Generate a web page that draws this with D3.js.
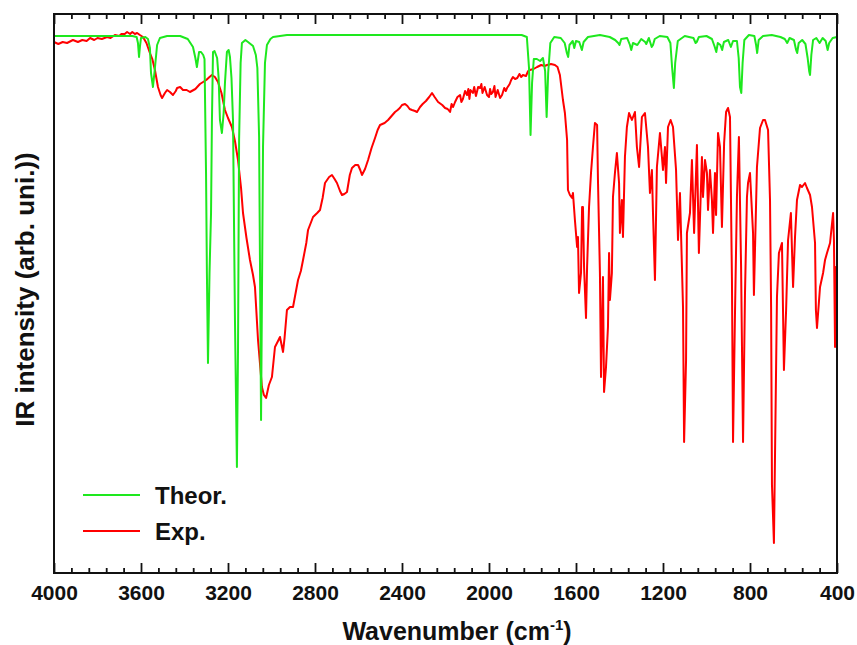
<!DOCTYPE html>
<html>
<head>
<meta charset="utf-8">
<script src="https://cdn.jsdelivr.net/npm/d3@7"></script>
<style>
  html, body { margin: 0; padding: 0; background: #fff; }
  svg { display: block; }
  text { font-family: "Liberation Sans", Arial, sans-serif; font-weight: bold; fill: #111; }
</style>
</head>
<body>
<svg id="chart" width="857" height="645"></svg>
<script>
// ---------------- data ----------------
const xMajorTicks = [4000, 3600, 3200, 2800, 2400, 2000, 1600, 1200, 800, 400];
const xMinorTicks = d3.range(400, 4001, 80).filter(v => !xMajorTicks.includes(v));
const seriesNames = ["Theor.", "Exp."];
const seriesColors = ["#1ee81e", "#ff0000"];

// [wavenumber (cm-1), intensity (arb.)]
const theorSpectrum = [
  [4000,53.7],[3700,53.7],[3640,53.7],[3620,53.6],[3614,53.0],[3609,51.6],[3605,52.6],[3600,53.5],
  [3580,53.6],[3568,53.4],[3559,52.5],[3554,50.0],[3545,48.6],[3536,50.5],[3526,52.8],[3513,53.5],
  [3480,53.7],[3420,53.7],[3385,53.4],[3361,52.6],[3350,51.5],[3343,50.6],[3333,52.1],[3324,52.1],
  [3314,51.8],[3308,51.4],[3301,40.0],[3297,30.0],[3292,21.0],[3285,30.0],[3278,36.0],[3274,45.0],
  [3269,52.1],[3262,52.2],[3250,51.5],[3243,49.5],[3237,45.3],[3228,44.0],[3220,46.0],[3214,49.0],
  [3205,52.1],[3197,52.3],[3191,51.6],[3184,49.5],[3177,45.3],[3168,25.3],[3159,10.6],[3154,22.3],
  [3149,43.3],[3142,51.0],[3136,53.0],[3120,53.3],[3108,53.1],[3085,52.7],[3072,51.8],[3065,50.5],
  [3057,43.6],[3048,15.3],[3039,42.6],[3030,51.0],[3021,52.8],[3005,53.4],[2993,53.6],[2929,53.8],
  [2500,53.8],[2000,53.8],[1850,53.8],[1826,53.6],[1816,50.5],[1809,43.8],[1802,49.0],[1794,51.4],
  [1780,51.4],[1765,51.2],[1752,51.5],[1742,50.2],[1735,45.6],[1728,50.0],[1718,53.0],[1700,53.6],
  [1670,53.5],[1652,53.0],[1642,52.0],[1636,51.6],[1630,52.8],[1615,53.2],[1608,52.5],[1600,53.2],
  [1585,53.1],[1573,52.3],[1565,53.1],[1545,53.6],[1490,53.8],[1445,53.6],[1420,53.3],[1406,53.0],
  [1400,52.8],[1392,53.4],[1365,53.5],[1352,52.8],[1346,52.3],[1338,53.0],[1318,52.8],[1300,53.4],
  [1282,53.1],[1277,52.9],[1265,53.5],[1252,52.6],[1246,52.8],[1238,53.4],[1215,53.7],[1180,53.6],
  [1166,53.0],[1158,50.5],[1150,48.5],[1144,51.0],[1132,53.2],[1100,53.7],[1060,53.5],[1050,53.0],
  [1045,53.1],[1035,53.6],[1000,53.7],[975,53.4],[962,52.6],[955,52.1],[948,53.0],[936,52.8],
  [928,52.3],[920,53.1],[900,53.3],[888,52.6],[878,53.2],[860,53.2],[852,51.5],[846,48.6],
  [840,48.0],[834,51.0],[826,53.3],[805,53.8],[780,53.7],[772,52.8],[767,52.0],[760,53.3],
  [740,53.7],[700,53.8],[660,53.6],[640,53.4],[629,53.0],[618,53.5],[598,53.3],[588,52.3],
  [583,52.0],[576,53.0],[560,53.3],[545,52.9],[535,51.5],[528,50.2],[524,49.8],[518,51.8],
  [510,53.3],[495,53.5],[480,53.0],[466,53.5],[452,53.2],[443,52.3],[436,53.0],[420,53.5],[400,53.6]
];

const expSpectrum = [
  [4000,53.1],[3980,52.9],[3960,53.1],[3940,53.0],[3913,53.3],[3890,53.1],[3870,53.3],[3850,53.2],
  [3834,53.5],[3815,53.3],[3800,53.5],[3780,53.4],[3756,53.6],[3740,53.5],[3720,53.8],[3700,53.7],
  [3690,53.9],[3675,53.9],[3664,54.1],[3650,53.9],[3640,54.1],[3628,53.9],[3618,54.0],[3605,53.8],
  [3591,53.6],[3575,53.0],[3559,52.0],[3548,51.4],[3536,50.3],[3522,48.6],[3510,47.8],[3503,47.5],
  [3490,48.0],[3480,48.3],[3467,48.1],[3453,47.8],[3440,48.2],[3434,48.5],[3420,48.6],[3407,48.3],
  [3390,48.3],[3375,48.1],[3350,48.4],[3329,48.9],[3300,49.3],[3285,49.6],[3274,49.8],[3260,49.6],
  [3246,49.1],[3230,48.0],[3214,46.3],[3200,45.5],[3182,44.6],[3168,43.2],[3154,41.3],[3140,38.5],
  [3131,36.0],[3115,33.5],[3099,31.3],[3085,29.8],[3076,28.6],[3062,23.3],[3044,18.6],[3035,17.8],
  [3025,17.5],[3012,18.8],[2998,19.6],[2984,22.6],[2970,23.2],[2961,23.6],[2947,22.1],[2940,23.5],
  [2929,26.3],[2915,26.6],[2901,26.6],[2878,29.3],[2865,30.2],[2855,31.3],[2840,33.0],[2832,34.3],
  [2809,35.6],[2790,36.0],[2777,36.3],[2765,37.5],[2754,39.0],[2735,39.6],[2722,39.8],[2710,39.4],
  [2699,39.0],[2685,38.2],[2676,37.8],[2665,37.9],[2653,38.1],[2640,39.8],[2630,40.5],[2615,40.8],
  [2602,40.8],[2592,40.3],[2584,39.8],[2570,40.4],[2556,41.3],[2540,42.5],[2524,43.5],[2512,44.3],
  [2501,44.8],[2480,45.0],[2464,45.3],[2448,45.7],[2432,46.1],[2420,46.3],[2410,46.5],[2400,46.8],
  [2386,46.9],[2375,46.7],[2365,46.4],[2354,46.3],[2340,46.2],[2331,46.1],[2317,46.6],[2305,46.9],
  [2290,47.2],[2275,47.6],[2262,48.0],[2250,47.6],[2234,47.1],[2215,46.8],[2202,46.5],[2190,46.4],
  [2179,46.1],[2172,46.9],[2165,46.6],[2156,47.1],[2145,47.6],[2133,47.8],[2127,47.1],[2120,47.4],
  [2110,48.2],[2101,47.8],[2095,48.4],[2090,47.4],[2085,48.3],[2074,48.0],[2068,48.6],[2060,47.7],
  [2050,48.6],[2041,48.5],[2035,48.9],[2030,48.0],[2020,48.6],[2009,47.8],[2000,47.6],[1995,48.4],
  [1990,47.9],[1982,48.1],[1975,48.7],[1970,47.6],[1960,48.3],[1949,47.5],[1940,47.8],[1930,48.5],
  [1923,48.2],[1917,48.5],[1905,48.9],[1898,49.3],[1890,49.6],[1880,49.4],[1870,49.5],[1860,49.9],
  [1852,49.6],[1844,49.8],[1830,49.7],[1820,50.2],[1812,50.3],[1795,50.4],[1779,50.6],[1760,50.8],
  [1745,50.7],[1733,50.8],[1715,50.9],[1697,50.8],[1685,50.6],[1674,49.8],[1660,47.3],[1651,46.0],
  [1641,43.3],[1637,38.3],[1628,37.8],[1618,37.5],[1614,38.0],[1605,35.3],[1595,32.6],[1591,33.6],
  [1586,28.0],[1577,30.0],[1572,36.6],[1568,36.6],[1563,30.6],[1554,25.5],[1549,30.6],[1540,36.6],
  [1531,40.0],[1522,42.6],[1513,45.0],[1503,44.8],[1499,39.3],[1490,30.0],[1485,19.6],[1476,29.6],
  [1471,18.1],[1462,20.6],[1453,24.6],[1448,32.0],[1444,27.3],[1435,30.0],[1430,37.6],[1421,40.0],
  [1412,42.0],[1402,39.0],[1398,34.0],[1389,37.3],[1384,33.6],[1375,41.6],[1366,44.6],[1356,46.0],
  [1343,45.3],[1329,46.1],[1320,42.6],[1310,40.6],[1297,45.6],[1283,46.0],[1269,42.6],[1260,38.0],
  [1251,40.3],[1246,36.0],[1237,29.3],[1228,40.6],[1214,44.0],[1200,40.3],[1191,42.6],[1186,39.0],
  [1177,44.6],[1165,45.3],[1154,44.6],[1140,40.3],[1131,33.3],[1122,38.0],[1108,26.6],[1103,13.1],
  [1094,21.3],[1090,34.0],[1076,36.0],[1067,41.3],[1057,34.0],[1044,42.8],[1035,32.0],[1021,41.6],
  [1016,37.6],[1007,41.3],[998,40.0],[993,36.3],[984,40.3],[975,37.3],[970,34.0],[961,40.0],
  [956,35.8],[947,44.0],[938,42.6],[929,34.6],[919,43.0],[910,46.1],[901,46.5],[892,45.6],
  [883,29.3],[878,13.1],[869,26.0],[860,37.6],[851,43.6],[841,30.6],[832,13.1],[823,28.0],
  [814,37.6],[809,39.0],[800,40.0],[786,34.0],[782,27.8],[768,40.6],[754,44.5],[740,45.3],
  [731,45.3],[717,44.3],[708,37.3],[703,26.6],[699,8.8],[690,3.0],[680,20.6],[676,27.6],
  [667,32.0],[653,33.0],[644,20.3],[634,26.3],[625,33.3],[612,36.0],[602,28.6],[593,33.6],
  [584,37.3],[570,38.8],[561,38.6],[547,39.0],[538,38.5],[524,37.8],[515,36.6],[501,33.0],
  [497,26.3],[492,24.5],[478,28.6],[464,30.0],[455,31.3],[446,32.0],[432,33.0],[418,36.0],
  [414,33.3],[409,22.6],[405,30.6],[400,22.8]
];

// ---------------- chart ----------------
const svg = d3.select("#chart");
const margin = { left: 54, right: 20, top: 14, bottom: 72 };
const W = 857, H = 645;
const x = d3.scaleLinear().domain([4000, 400]).range([margin.left, W - margin.right]);
const y = d3.scaleLinear().domain([0, 56]).range([H - margin.bottom, margin.top - 1]);
const x0 = margin.left, x1 = W - margin.right, y0 = margin.top, y1 = H - margin.bottom;

const line = d3.line().x(d => x(d[0])).y(d => y(d[1]));

const plot = svg.append("g");
plot.append("path").datum(expSpectrum)
  .attr("d", line).attr("fill", "none")
  .attr("stroke", seriesColors[1]).attr("stroke-width", 2).attr("stroke-linejoin", "round");
plot.append("path").datum(theorSpectrum)
  .attr("d", line).attr("fill", "none")
  .attr("stroke", seriesColors[0]).attr("stroke-width", 2).attr("stroke-linejoin", "round");

// axes
function styleAxis(g) {
  g.select(".domain").remove();
  g.selectAll(".tick line").attr("stroke", "#111").attr("stroke-width", 1.8);
}
svg.append("g").attr("transform", `translate(0,${y1})`)
  .call(d3.axisBottom(x).tickValues(xMinorTicks).tickSize(-5).tickFormat(""))
  .call(styleAxis);
const bottomAxis = svg.append("g").attr("transform", `translate(0,${y1})`)
  .call(d3.axisBottom(x).tickValues(xMajorTicks).tickSize(-10).tickPadding(12).tickFormat(d3.format("d")))
  .call(styleAxis);
bottomAxis.selectAll("text")
  .attr("font-size", 21).attr("font-family", "'Liberation Sans', Arial, sans-serif")
  .attr("font-weight", "bold").attr("fill", "#111");
svg.append("g").attr("transform", `translate(0,${y0})`)
  .call(d3.axisTop(x).tickValues(xMinorTicks).tickSize(-5).tickFormat(""))
  .call(styleAxis);
svg.append("g").attr("transform", `translate(0,${y0})`)
  .call(d3.axisTop(x).tickValues(xMajorTicks).tickSize(-10).tickFormat(""))
  .call(styleAxis);

// frame
svg.append("rect").attr("x", x0).attr("y", y0).attr("width", x1 - x0).attr("height", y1 - y0)
  .attr("fill", "none").attr("stroke", "#111").attr("stroke-width", 2);

// axis titles
const xt = svg.append("text").attr("x", 457).attr("y", 640).attr("text-anchor", "middle").attr("font-size", 25);
xt.append("tspan").text("Wavenumber (cm");
xt.append("tspan").attr("font-size", 15).attr("dy", -10).text("-1");
xt.append("tspan").attr("dy", 10).text(")");

svg.append("text").attr("transform", `translate(34,${(y0 + y1) / 2 - 4}) rotate(-90)`)
  .attr("text-anchor", "middle").attr("font-size", 26).text("IR intensity (arb. uni.))");

// legend
const legend = svg.append("g");
seriesNames.forEach((name, i) => {
  const ly = 495 + i * 36;
  legend.append("line").attr("x1", 83).attr("x2", 140).attr("y1", ly).attr("y2", ly)
    .attr("stroke", seriesColors[i]).attr("stroke-width", 2);
  legend.append("text").attr("x", 155).attr("y", ly + 8.5).attr("font-size", 24).text(name);
});
</script>
</body>
</html>
